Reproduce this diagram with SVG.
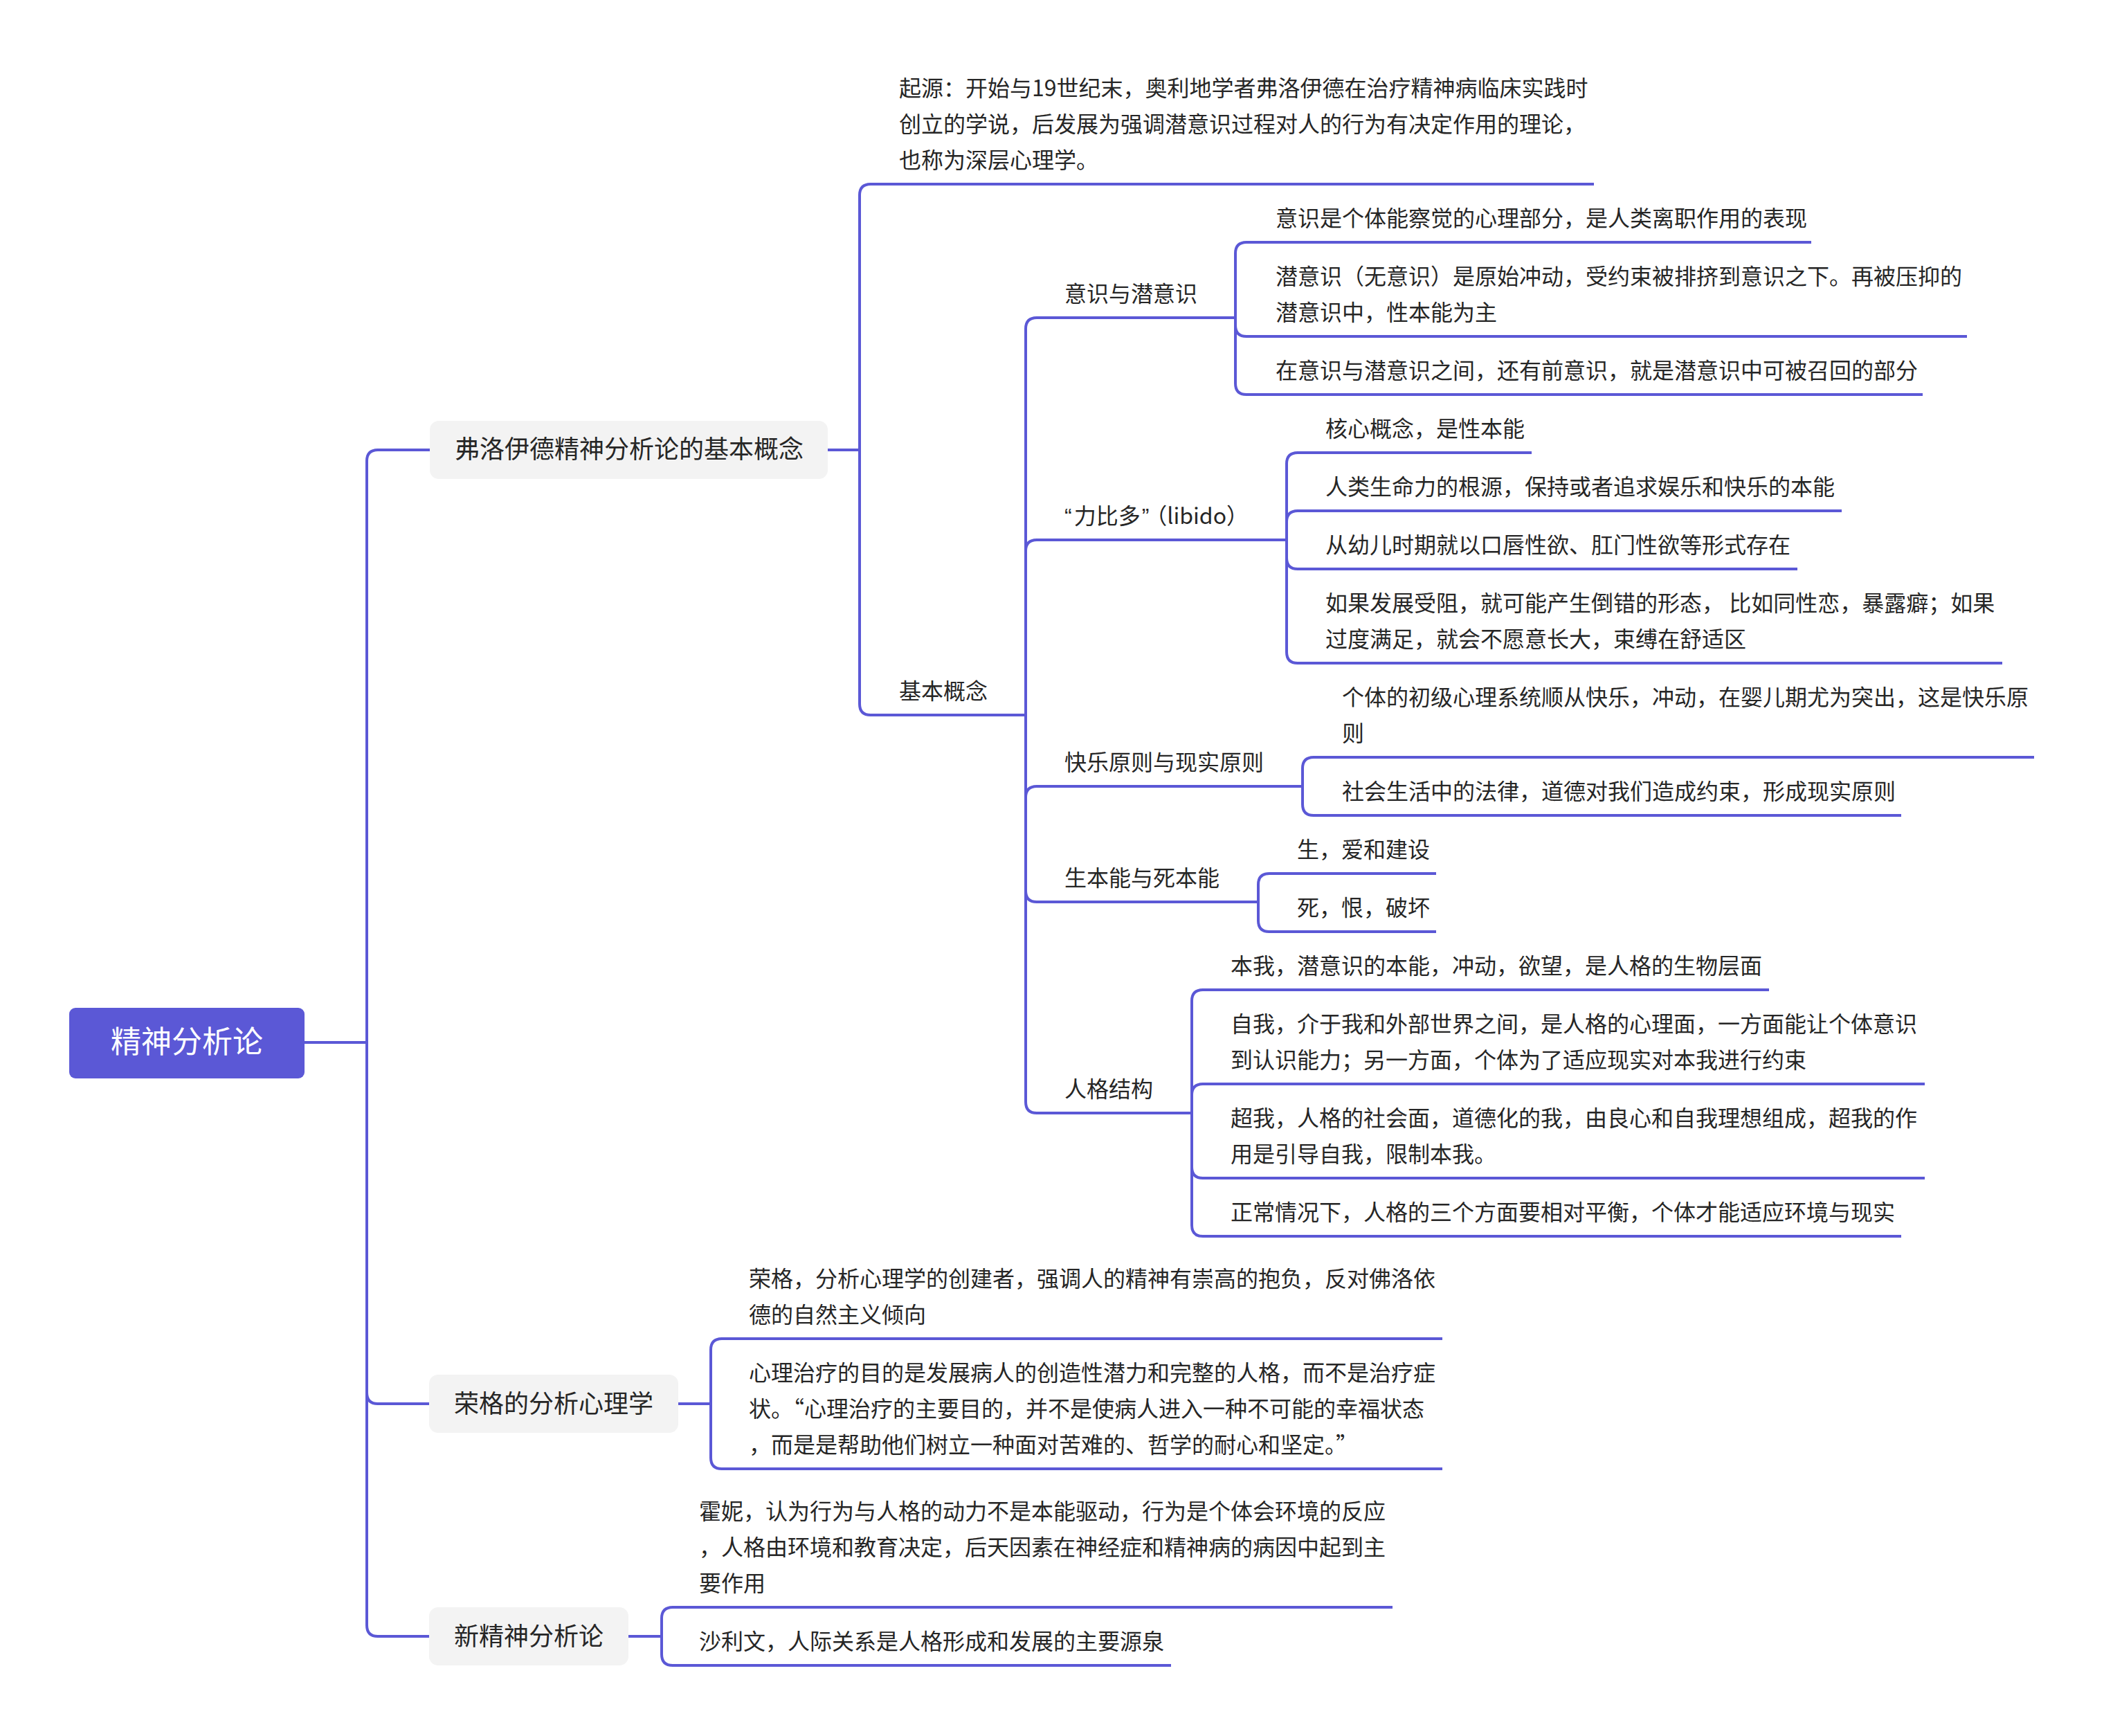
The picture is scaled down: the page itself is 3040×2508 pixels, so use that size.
<svg xmlns="http://www.w3.org/2000/svg" width="3040" height="2508" viewBox="0 0 3040 2508">
<style>
text{font-family:"Noto Sans CJK SC","Noto Sans",sans-serif;fill:#262626;font-size:32px}
.q{font-family:"Liberation Sans","Noto Sans CJK SC",sans-serif}
.l1{font-size:36px}
.root{font-size:44px;fill:#ffffff}
.box{fill:#f3f3f3}
.c{fill:none;stroke:#5b58d6;stroke-width:4;stroke-linecap:butt}
</style>
<rect width="3040" height="2508" fill="#ffffff"/>
<g id="connectors">
<path class="c" d="M440,1506 H530"/>
<path class="c" d="M530,1506 V666 Q530,650 546,650 H621"/>
<path class="c" d="M530,1506 V2012 Q530,2028 546,2028 H620"/>
<path class="c" d="M530,1506 V2348 Q530,2364 546,2364 H620"/>
<path class="c" d="M1196,650 H1242"/>
<path class="c" d="M1242,650 V282 Q1242,266 1258,266 H2303"/>
<path class="c" d="M1242,650 V1017 Q1242,1033 1258,1033 H1482"/>
<path class="c" d="M1482,1033 V475 Q1482,459 1498,459 H1785"/>
<path class="c" d="M1482,1033 V796 Q1482,780 1498,780 H1859"/>
<path class="c" d="M1482,1033 V1152 Q1482,1136 1498,1136 H1882"/>
<path class="c" d="M1482,1033 V1287 Q1482,1303 1498,1303 H1818"/>
<path class="c" d="M1482,1033 V1592 Q1482,1608 1498,1608 H1722"/>
<path class="c" d="M1785,459 V366 Q1785,350 1801,350 H2617"/>
<path class="c" d="M1785,459 V470 Q1785,486 1801,486 H2842"/>
<path class="c" d="M1785,459 V554 Q1785,570 1801,570 H2778"/>
<path class="c" d="M1859,780 V670 Q1859,654 1875,654 H2213"/>
<path class="c" d="M1859,780 V754 Q1859,738 1875,738 H2661"/>
<path class="c" d="M1859,780 V806 Q1859,822 1875,822 H2597"/>
<path class="c" d="M1859,780 V942 Q1859,958 1875,958 H2893"/>
<path class="c" d="M1882,1136 V1110 Q1882,1094 1898,1094 H2939"/>
<path class="c" d="M1882,1136 V1162 Q1882,1178 1898,1178 H2747"/>
<path class="c" d="M1818,1303 V1278 Q1818,1262 1834,1262 H2075"/>
<path class="c" d="M1818,1303 V1330 Q1818,1346 1834,1346 H2075"/>
<path class="c" d="M1722,1608 V1446 Q1722,1430 1738,1430 H2556"/>
<path class="c" d="M1722,1608 V1582 Q1722,1566 1738,1566 H2781"/>
<path class="c" d="M1722,1608 V1686 Q1722,1702 1738,1702 H2781"/>
<path class="c" d="M1722,1608 V1770 Q1722,1786 1738,1786 H2747"/>
<path class="c" d="M980,2028 H1027"/>
<path class="c" d="M1027,2028 V1950 Q1027,1934 1043,1934 H2084"/>
<path class="c" d="M1027,2028 V2106 Q1027,2122 1043,2122 H2084"/>
<path class="c" d="M908,2364 H956"/>
<path class="c" d="M956,2364 V2338 Q956,2322 972,2322 H2012"/>
<path class="c" d="M956,2364 V2390 Q956,2406 972,2406 H1692"/>
</g>
<g id="root">
<rect x="100" y="1456" width="340" height="102" rx="9" fill="#5b58d6"/>
<text class="root" x="160" y="1521">精神分析论</text>
</g>
<g id="n-freud">
<rect class="box" x="621" y="608" width="575" height="84" rx="13"/>
<text class="l1" x="657" y="662">弗洛伊德精神分析论的基本概念</text>
</g>
<g id="n-jung">
<rect class="box" x="620" y="1986" width="360" height="84" rx="13"/>
<text class="l1" x="656" y="2041">荣格的分析心理学</text>
</g>
<g id="n-neo">
<rect class="box" x="620" y="2322" width="288" height="84" rx="13"/>
<text class="l1" x="656" y="2377">新精神分析论</text>
</g>
<g id="n-origin">
<text x="1299" y="139">起源：开始与19世纪末，奥利地学者弗洛伊德在治疗精神病临床实践时</text>
<text x="1299" y="191">创立的学说，后发展为强调潜意识过程对人的行为有决定作用的理论，</text>
<text x="1299" y="243">也称为深层心理学。</text>
</g>
<g id="n-basic"><text x="1299" y="1010">基本概念</text></g>
<g id="n-conscious"><text x="1538" y="436">意识与潜意识</text></g>
<g id="n-c1"><text x="1843" y="327">意识是个体能察觉的心理部分，是人类离职作用的表现</text></g>
<g id="n-c2">
<text x="1843" y="411">潜意识（无意识）是原始冲动，受约束被排挤到意识之下。再被压抑的</text>
<text x="1843" y="463">潜意识中，性本能为主</text>
</g>
<g id="n-c3"><text x="1843" y="547">在意识与潜意识之间，还有前意识，就是潜意识中可被召回的部分</text></g>
<g id="n-libido"><text x="1538" y="757"><tspan class="q">“</tspan><tspan dx="3">力比多</tspan><tspan class="q" dx="2">”</tspan><tspan dx="10">（libido）</tspan></text></g>
<g id="n-l1"><text x="1915" y="631">核心概念，是性本能</text></g>
<g id="n-l2"><text x="1915" y="715">人类生命力的根源，保持或者追求娱乐和快乐的本能</text></g>
<g id="n-l3"><text x="1915" y="799">从幼儿时期就以口唇性欲、肛门性欲等形式存在</text></g>
<g id="n-l4">
<text x="1915" y="883">如果发展受阻，就可能产生倒错的形态， 比如同性恋，暴露癖；如果</text>
<text x="1915" y="935">过度满足，就会不愿意长大，束缚在舒适区</text>
</g>
<g id="n-pleasure"><text x="1538" y="1113">快乐原则与现实原则</text></g>
<g id="n-p1">
<text x="1939" y="1019">个体的初级心理系统顺从快乐，冲动，在婴儿期尤为突出，这是快乐原</text>
<text x="1939" y="1071">则</text>
</g>
<g id="n-p2"><text x="1939" y="1155">社会生活中的法律，道德对我们造成约束，形成现实原则</text></g>
<g id="n-instinct"><text x="1538" y="1280">生本能与死本能</text></g>
<g id="n-i1"><text x="1874" y="1239">生，爱和建设</text></g>
<g id="n-i2"><text x="1874" y="1323">死，恨，破坏</text></g>
<g id="n-personality"><text x="1538" y="1585">人格结构</text></g>
<g id="n-s1"><text x="1778" y="1407">本我，潜意识的本能，冲动，欲望，是人格的生物层面</text></g>
<g id="n-s2">
<text x="1778" y="1491">自我，介于我和外部世界之间，是人格的心理面，一方面能让个体意识</text>
<text x="1778" y="1543">到认识能力；另一方面，个体为了适应现实对本我进行约束</text>
</g>
<g id="n-s3">
<text x="1778" y="1627">超我，人格的社会面，道德化的我，由良心和自我理想组成，超我的作</text>
<text x="1778" y="1679">用是引导自我，限制本我。</text>
</g>
<g id="n-s4"><text x="1778" y="1763">正常情况下，人格的三个方面要相对平衡，个体才能适应环境与现实</text></g>
<g id="n-j1">
<text x="1082" y="1859">荣格，分析心理学的创建者，强调人的精神有崇高的抱负，反对佛洛依</text>
<text x="1082" y="1911">德的自然主义倾向</text>
</g>
<g id="n-j2">
<text x="1082" y="1995">心理治疗的目的是发展病人的创造性潜力和完整的人格，而不是治疗症</text>
<text x="1082" y="2047">状。“心理治疗的主要目的，并不是使病人进入一种不可能的幸福状态</text>
<text x="1082" y="2099">，而是是帮助他们树立一种面对苦难的、哲学的耐心和坚定。”</text>
</g>
<g id="n-h1">
<text x="1010" y="2195">霍妮，认为行为与人格的动力不是本能驱动，行为是个体会环境的反应</text>
<text x="1010" y="2247">，人格由环境和教育决定，后天因素在神经症和精神病的病因中起到主</text>
<text x="1010" y="2299">要作用</text>
</g>
<g id="n-h2"><text x="1010" y="2383">沙利文，人际关系是人格形成和发展的主要源泉</text></g>
</svg>
